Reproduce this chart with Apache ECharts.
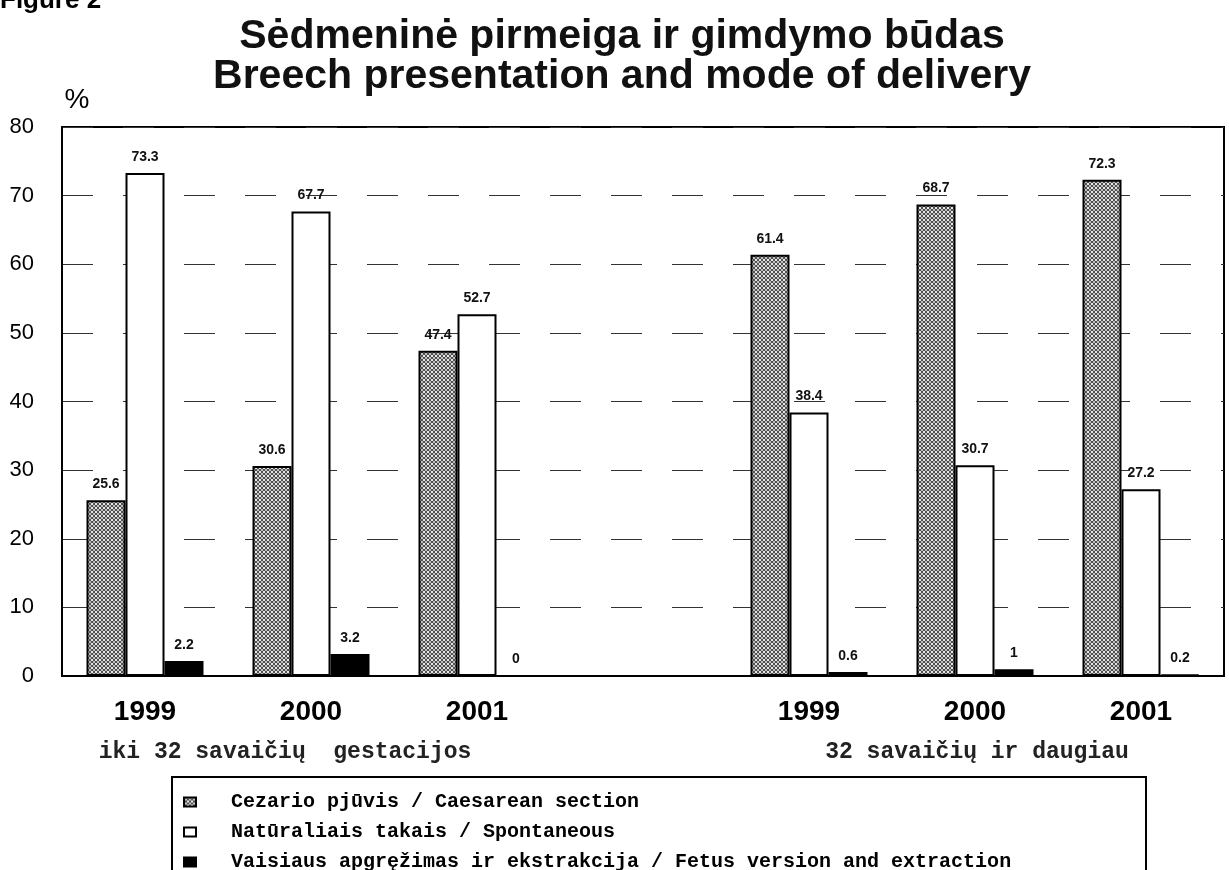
<!DOCTYPE html>
<html>
<head>
<meta charset="utf-8">
<script src="https://cdn.jsdelivr.net/npm/echarts@6/dist/echarts.min.js"></script>
<style>
  html, body { margin: 0; padding: 0; background: #fff; }
  #chart { width: 1229px; height: 870px; }
</style>
</head>
<body>
<div id="chart"></div>
<script>
// data
const categories = ['1999', '2000', '2001', '', '1999', '2000', '2001'];
const caesarean = [25.6, 30.6, 47.4, null, 61.4, 68.7, 72.3];
const spontaneous = [73.3, 67.7, 52.7, null, 38.4, 30.7, 27.2];
const version = [2.2, 3.2, 0, null, 0.6, 1, 0.2];
const seriesNames = [
  'Cezario pjūvis / Caesarean section',
  'Natūraliais takais / Spontaneous',
  'Vaisiaus apgręžimas ir ekstrakcija / Fetus version and extraction'
];
const groupNames = ['iki 32 savaičių  gestacijos', '32 savaičių ir daugiau'];

const SANS = '"Liberation Sans", Arial, sans-serif';
const MONO = '"Liberation Mono", "Courier New", monospace';

// small ring pattern like the old excel fill
function ringPattern() {
  const c = document.createElement('canvas');
  c.width = 4; c.height = 4;
  const ctx = c.getContext('2d');
  ctx.fillStyle = '#fff';
  ctx.fillRect(0, 0, 4, 4);
  ctx.strokeStyle = '#000';
  ctx.lineWidth = 0.8;
  ctx.beginPath();
  ctx.arc(2, 2, 1.5, 0, Math.PI * 2);
  ctx.stroke();
  return c;
}

const label = {
  show: true,
  position: 'top',
  distance: 9,
  fontFamily: SANS,
  fontWeight: 'bold',
  fontSize: 14,
  color: '#111'
};

function barSeries(name, data, fill) {
  return {
    name: name,
    type: 'bar',
    data: data,
    barWidth: 39,
    barGap: '0%',
    itemStyle: { color: fill, borderColor: '#000', borderWidth: 2 },
    label: label
  };
}

const chart = echarts.init(document.getElementById('chart'));
chart.setOption({
  animation: false,
  backgroundColor: '#fff',
  grid: {
    left: 62, right: 5, top: 127, bottom: 194,
    show: true, borderColor: '#000', borderWidth: 2
  },
  legend: {
    orient: 'vertical',
    left: 178,
    top: 787,
    height: 110,
    itemWidth: 12,
    itemHeight: 9,
    itemGap: 10,
    icon: 'rect',
    textStyle: {
      fontFamily: MONO, fontWeight: 'bold', fontSize: 20, color: '#000',
      lineHeight: 20, padding: [0, 0, 0, 30]
    },
    data: seriesNames
  },
  xAxis: {
    type: 'category',
    data: categories,
    axisLine: { lineStyle: { color: '#000', width: 2 } },
    axisTick: { show: false },
    axisLabel: {
      margin: 22, fontFamily: SANS, fontWeight: 'bold', fontSize: 28, color: '#000'
    }
  },
  yAxis: {
    type: 'value',
    min: 0, max: 80, interval: 10,
    axisLine: { show: true, lineStyle: { color: '#000', width: 2 } },
    axisTick: { show: false },
    axisLabel: { margin: 28, fontFamily: SANS, fontSize: 22, color: '#000' },
    splitLine: { lineStyle: { color: '#333', width: 1, type: [31, 30] } }
  },
  series: [
    barSeries(seriesNames[0], caesarean, { image: ringPattern(), repeat: 'repeat' }),
    barSeries(seriesNames[1], spontaneous, '#fff'),
    barSeries(seriesNames[2], version, '#000')
  ],
  graphic: [
    {
      type: 'text', left: 0, top: -12,
      style: { text: 'Figure 2', font: 'bold 26px ' + SANS, fill: '#000' }
    },
    {
      type: 'text', x: 622, y: 17,
      style: {
        text: 'Sėdmeninė pirmeiga ir gimdymo būdas\nBreech presentation and mode of delivery',
        font: 'bold 41px ' + SANS, lineHeight: 40, align: 'center', verticalAlign: 'top', fill: '#111'
      }
    },
    {
      type: 'text', x: 77, y: 100,
      style: { text: '%', font: '28px ' + SANS, align: 'center', verticalAlign: 'middle', fill: '#000' }
    },
    {
      type: 'text', x: 285, y: 752,
      style: { text: groupNames[0], font: 'bold 23px ' + MONO, align: 'center', verticalAlign: 'middle', fill: '#222' }
    },
    {
      type: 'text', x: 977, y: 752,
      style: { text: groupNames[1], font: 'bold 23px ' + MONO, align: 'center', verticalAlign: 'middle', fill: '#222' }
    },
    {
      type: 'rect', z: -1,
      shape: { x: 172, y: 777, width: 974, height: 140 },
      style: { fill: '#fff', stroke: '#000', lineWidth: 2 }
    }
  ]
});
</script>
</body>
</html>
